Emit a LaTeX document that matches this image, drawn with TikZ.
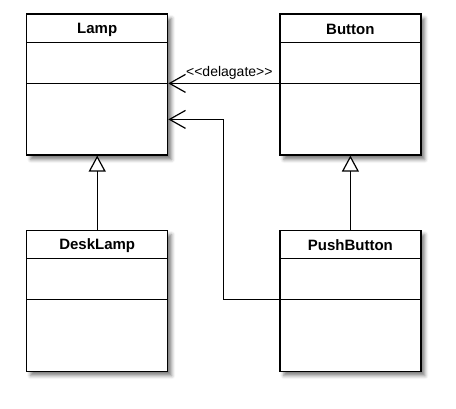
\documentclass[tikz,border=0pt]{standalone}
\usepackage{fontspec}
\setmainfont{Liberation Sans}[Ligatures=TeXOff]
\usetikzlibrary{arrows.meta,positioning,shadows.blur}

\begin{document}
\begin{tikzpicture}[x=1pt,y=-1pt,line width=1.2pt,
  class node/.style={rectangle,draw,fill=white,minimum width=141pt,minimum height=141pt,
    blur shadow={shadow xshift=4pt,shadow yshift=-4.5pt,shadow blur radius=3.5pt,shadow opacity=50}},
  name node/.style={font=\fontsize{15}{18}\selectfont\bfseries},
  extends/.style={-{Triangle[length=16pt,width=17pt,fill=white]}},
  uses/.style={-{Straight Barb[length=16pt,width=18pt]}}]
  \useasboundingbox (0,0) rectangle (456,409);

  \node[class node] (lamp) at (97.2,84.5) {};
  \node[class node] (button) [right=111pt of lamp] {};
  \node[class node] (desklamp) [below=74pt of lamp] {};
  \node[class node] (pushbutton) [below=74pt of button] {};

  \node[name node] (lamp name) at ([yshift=-16pt]lamp.north) {Lamp};
  \draw ([yshift=-29pt]lamp.north west) -- ([yshift=-29pt]lamp.north east);
  \draw ([yshift=-70pt]lamp.north west) -- ([yshift=-70pt]lamp.north east);

  \node[name node] (button name) at ([yshift=-16pt]button.north) {Button};
  \draw ([yshift=-29pt]button.north west) -- ([yshift=-29pt]button.north east);
  \draw ([yshift=-70pt]button.north west) -- ([yshift=-70pt]button.north east);

  \node[name node] (desklamp name) at ([yshift=-16pt]desklamp.north) {DeskLamp};
  \draw ([yshift=-29pt]desklamp.north west) -- ([yshift=-29pt]desklamp.north east);
  \draw ([yshift=-70pt]desklamp.north west) -- ([yshift=-70pt]desklamp.north east);

  \node[name node] (pushbutton name) at ([yshift=-16pt]pushbutton.north) {PushButton};
  \draw ([yshift=-29pt]pushbutton.north west) -- ([yshift=-29pt]pushbutton.north east);
  \draw ([yshift=-70pt]pushbutton.north west) -- ([yshift=-70pt]pushbutton.north east);

  \path (desklamp) edge[extends] (lamp)
    (pushbutton) edge[extends] (button);

  \draw[uses] ([yshift=-70pt]button.west |- button.north) -- ([yshift=-70pt]lamp.north east)
    node[above,pos=0.45,font=\fontsize{14}{16}\selectfont] (delegate label) {<<delagate>>};

  \coordinate (lamp in) at ([yshift=-106pt]lamp.north east);
  \draw[uses] ([yshift=-70pt]pushbutton.north west) -- ++(-56pt,0) |- (lamp in);
\end{tikzpicture}
\end{document}
